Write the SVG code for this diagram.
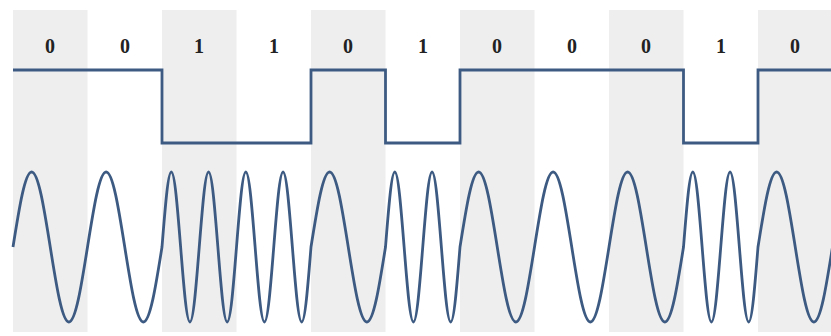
<svg xmlns="http://www.w3.org/2000/svg" width="831" height="336" viewBox="0 0 831 336">
<style>
.col{fill:#eeeeef}
.bit{font-family:"Liberation Serif","Times New Roman",serif;font-weight:bold;font-size:20px;fill:#222222;text-anchor:middle}
.sig{fill:none;stroke:#3d5b82;stroke-width:2.8;stroke-linejoin:miter}
</style>
<rect width="831" height="336" fill="#ffffff"/>
<g id="columns">
<rect class="col" x="13" y="10" width="74.5" height="322"/>
<rect class="col" x="162" y="10" width="74.5" height="322"/>
<rect class="col" x="311" y="10" width="74.5" height="322"/>
<rect class="col" x="460" y="10" width="74.5" height="322"/>
<rect class="col" x="609" y="10" width="74.5" height="322"/>
<rect class="col" x="758" y="10" width="73" height="322"/>
</g>
<g id="bits">
<text class="bit" x="50" y="53">0</text>
<text class="bit" x="125" y="53">0</text>
<text class="bit" x="199" y="53">1</text>
<text class="bit" x="274" y="53">1</text>
<text class="bit" x="348" y="53">0</text>
<text class="bit" x="423" y="53">1</text>
<text class="bit" x="497" y="53">0</text>
<text class="bit" x="572" y="53">0</text>
<text class="bit" x="646" y="53">0</text>
<text class="bit" x="721" y="53">1</text>
<text class="bit" x="795" y="53">0</text>
</g>
<g id="digital-signal">
<path class="sig" d="M13,70 H162 V143 H311 V70 H385.5 V143 H460 V70 H683.5 V143 H758 V70 H831"/>
</g>
<g id="fsk-signal">
<path class="sig" d="M13,247
c6.074,-38.42 11.885,-75 18.625,-75 c6.74,0 12.551,36.58 18.625,75 c6.074,38.42 11.885,75 18.625,75 c6.74,0 12.551,-36.58 18.625,-75
c6.074,-38.42 11.885,-75 18.625,-75 c6.74,0 12.551,36.58 18.625,75 c6.074,38.42 11.885,75 18.625,75 c6.74,0 12.551,-36.58 18.625,-75
c3.037,-38.42 5.942,-75 9.3125,-75 c3.37,0 6.276,36.58 9.3125,75 c3.037,38.42 5.942,75 9.3125,75 c3.37,0 6.276,-36.58 9.3125,-75
c3.037,-38.42 5.942,-75 9.3125,-75 c3.37,0 6.276,36.58 9.3125,75 c3.037,38.42 5.942,75 9.3125,75 c3.37,0 6.276,-36.58 9.3125,-75
c3.037,-38.42 5.942,-75 9.3125,-75 c3.37,0 6.276,36.58 9.3125,75 c3.037,38.42 5.942,75 9.3125,75 c3.37,0 6.276,-36.58 9.3125,-75
c3.037,-38.42 5.942,-75 9.3125,-75 c3.37,0 6.276,36.58 9.3125,75 c3.037,38.42 5.942,75 9.3125,75 c3.37,0 6.276,-36.58 9.3125,-75
c6.074,-38.42 11.885,-75 18.625,-75 c6.74,0 12.551,36.58 18.625,75 c6.074,38.42 11.885,75 18.625,75 c6.74,0 12.551,-36.58 18.625,-75
c3.037,-38.42 5.942,-75 9.3125,-75 c3.37,0 6.276,36.58 9.3125,75 c3.037,38.42 5.942,75 9.3125,75 c3.37,0 6.276,-36.58 9.3125,-75
c3.037,-38.42 5.942,-75 9.3125,-75 c3.37,0 6.276,36.58 9.3125,75 c3.037,38.42 5.942,75 9.3125,75 c3.37,0 6.276,-36.58 9.3125,-75
c6.074,-38.42 11.885,-75 18.625,-75 c6.74,0 12.551,36.58 18.625,75 c6.074,38.42 11.885,75 18.625,75 c6.74,0 12.551,-36.58 18.625,-75
c6.074,-38.42 11.885,-75 18.625,-75 c6.74,0 12.551,36.58 18.625,75 c6.074,38.42 11.885,75 18.625,75 c6.74,0 12.551,-36.58 18.625,-75
c6.074,-38.42 11.885,-75 18.625,-75 c6.74,0 12.551,36.58 18.625,75 c6.074,38.42 11.885,75 18.625,75 c6.74,0 12.551,-36.58 18.625,-75
c3.037,-38.42 5.942,-75 9.3125,-75 c3.37,0 6.276,36.58 9.3125,75 c3.037,38.42 5.942,75 9.3125,75 c3.37,0 6.276,-36.58 9.3125,-75
c3.037,-38.42 5.942,-75 9.3125,-75 c3.37,0 6.276,36.58 9.3125,75 c3.037,38.42 5.942,75 9.3125,75 c3.37,0 6.276,-36.58 9.3125,-75
c6.074,-38.42 11.885,-75 18.625,-75 c6.74,0 12.551,36.58 18.625,75 c6.074,38.42 11.885,75 18.625,75 c6.74,0 12.551,-36.58 18.625,-75"/>
</g>
</svg>
